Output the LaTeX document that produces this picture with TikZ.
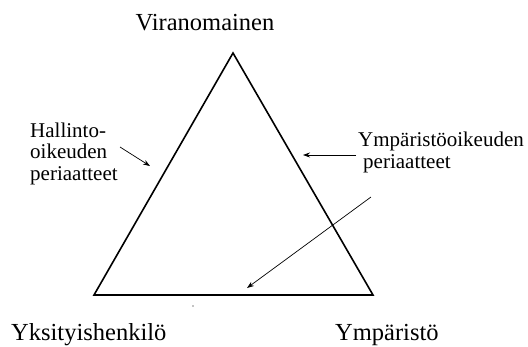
\documentclass[tikz,border=0pt]{standalone}
\usepackage{fontspec}
\setmainfont{Liberation Serif}
\usetikzlibrary{arrows.meta, positioning}

\begin{document}
\begin{tikzpicture}[
		x=1pt, y=-1pt,
		% Style for the corner labels
		corner label/.style={font=\fontsize{24.5}{26}\selectfont, inner sep=0pt},
		% Style for the side labels
		side label/.style={font=\fontsize{21}{21.5}\selectfont, inner sep=0pt, align=left},
		% Lines
		edge line/.style={line width=1.6pt, line join=miter},
		pointer/.style={line width=0.7pt, -{Stealth[length=7pt, width=5pt]}}
		]
		\useasboundingbox (0,0) rectangle (528,346);
		
		% triangle corners
		\coordinate (top) at (233,53);
		\coordinate (left) at (94,295);
		\coordinate (right) at (373,295);
		\draw[edge line] (top) -- (right) -- (left) -- cycle;
		
		% corner labels
		\node[corner label, anchor=base] (viranomainen) at (205,30) {Viranomainen};
		\node[corner label, anchor=base west] (yksityinen) at (11,340) {Yksityishenkilö};
		\node[corner label, anchor=base west] (ymparisto) at (335,340) {Ympäristö};
		
		% side labels (base = last line)
		\node[side label, anchor=base west] (hallinto) at (30,180) {Hallinto-\\oikeuden\\periaatteet};
		\node[side label, anchor=base west] (ymplabel) at (358,168) {Ympäristöoikeuden\\\hspace{5pt}periaatteet};
		
		% pointers
		\coordinate (hstart) at (120,147);
		\coordinate (hend) at (150,166);
		\draw[pointer] (hstart) -- (hend);
		\coordinate (ystart) at (356,155);
		\coordinate (yend) at (303,155);
		\draw[pointer] (ystart) -- (yend);
		\coordinate (lstart) at (371,197);
		\coordinate (lend) at (247,288);
		\draw[pointer] (lstart) -- (lend);
		
		% stray dot
		\fill (193,306) circle (0.6pt);
	\end{tikzpicture}
\end{document}
